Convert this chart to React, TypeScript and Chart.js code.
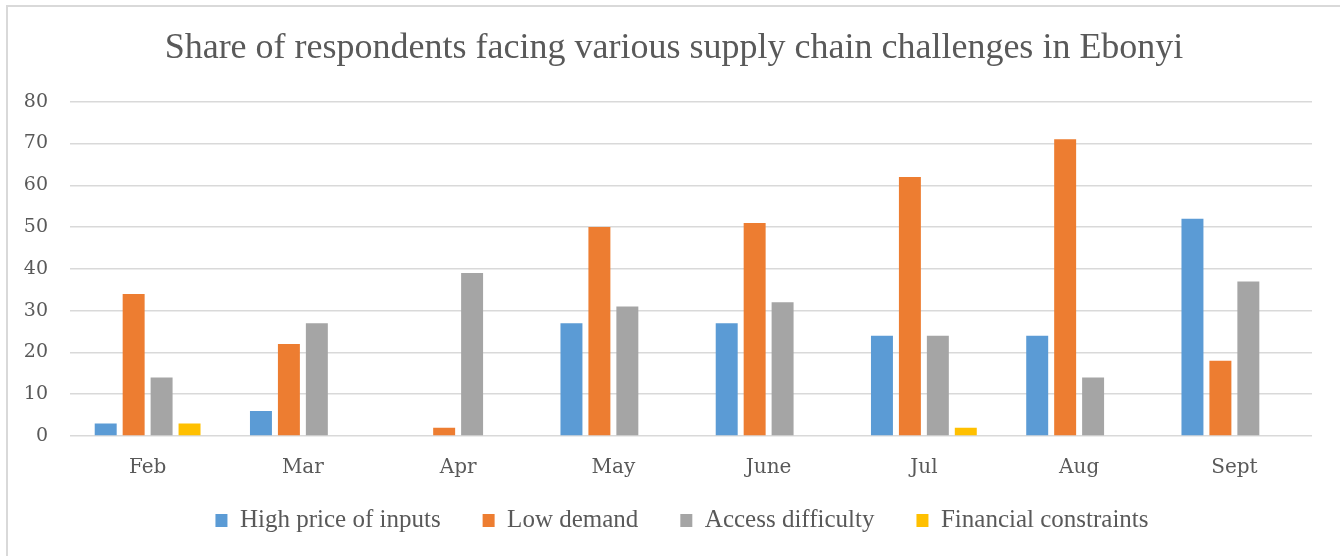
import React, { useEffect, useRef } from "react";
import { Chart, registerables } from "chart.js";

Chart.register(...registerables);

const TITLE = "Share of respondents facing various supply chain challenges in Ebonyi";
const MONTHS = ["Feb", "Mar", "Apr", "May", "June", "Jul", "Aug", "Sept"];
const HIGH_PRICE = [3, 6, 0, 27, 27, 24, 24, 52];
const LOW_DEMAND = [34, 22, 2, 50, 51, 62, 71, 18];
const ACCESS = [14, 27, 39, 31, 32, 24, 14, 37];
const FINANCIAL = [3, 0, 0, 0, 0, 2, 0, 0];
const SERIES_NAMES = ["High price of inputs", "Low demand", "Access difficulty", "Financial constraints"];
const COLORS = ["#5B9BD5", "#ED7D31", "#A5A5A5", "#FFC000"];
const Y_TICKS = [0, 10, 20, 30, 40, 50, 60, 70, 80];

const blockShift = {
  id: "blockShift",
  afterLayout(chart: any) {
    const lg = chart.legend;
    if (lg) {
      lg.top -= 13;
      lg.bottom -= 13;
      lg.left += 22;
      lg.right += 22;
    }
    const tb = chart.titleBlock;
    if (tb) {
      tb.left += 14;
      tb.right += 14;
    }
  },
};

export default function App() {
  const ref = useRef<HTMLCanvasElement | null>(null);

  useEffect(() => {
    document.body.style.overflow = "hidden";
    const canvas = ref.current;
    if (!canvas) return;
    const values = [HIGH_PRICE, LOW_DEMAND, ACCESS, FINANCIAL];
    const chart = new Chart(canvas, {
      type: "bar",
      data: {
        labels: MONTHS,
        datasets: values.map((v, i) => ({
          label: SERIES_NAMES[i],
          data: v,
          backgroundColor: COLORS[i],
          borderWidth: 0,
          categoryPercentage: 0.72,
          barPercentage: 0.786,
        })),
      },
      plugins: [blockShift],
      options: {
        responsive: false,
        animation: false,
        layout: { padding: { left: 0, right: 28, top: 0, bottom: 0 } },
        plugins: {
          title: {
            display: true,
            text: TITLE,
            color: "#595959",
            font: { family: "'Liberation Serif', serif", size: 36, weight: "normal" },
            padding: { top: 20, bottom: 31.5 },
          },
          legend: {
            position: "bottom",
            labels: {
              boxWidth: 12,
              boxHeight: 13,
              padding: 42,
              color: "#595959",
              font: { family: "'Liberation Serif', serif", size: 25 },
            },
          },
          tooltip: { enabled: false },
        },
        scales: {
          x: {
            grid: { display: false, drawTicks: false },
            border: { display: false },
            afterFit: (s: any) => {
              s.height = 43;
            },
            ticks: {
              padding: 20,
              color: "#595959",
              font: { family: "'DejaVu Serif', serif", size: 20 },
            },
          },
          y: {
            min: 0,
            max: 80,
            afterBuildTicks: (s: any) => {
              s.ticks = Y_TICKS.map((v) => ({ value: v }));
            },
            afterFit: (s: any) => {
              s.width = 62;
            },
            grid: { color: "#d9d9d9", lineWidth: 1.5, drawTicks: false },
            border: { display: false },
            ticks: {
              padding: 22,
              color: "#595959",
              font: { family: "'DejaVu Serif', serif", size: 19 },
            },
          },
        },
      },
    });
    return () => chart.destroy();
  }, []);

  return (
    <div
      style={{
        position: "absolute",
        left: 6,
        top: 5,
        borderLeft: "2px solid #d9d9d9",
        borderTop: "2px solid #d9d9d9",
        width: 1332,
        height: 549,
        background: "#fff",
      }}
    >
      <canvas ref={ref} width={1332} height={549} style={{ display: "block" }} />
    </div>
  );
}
